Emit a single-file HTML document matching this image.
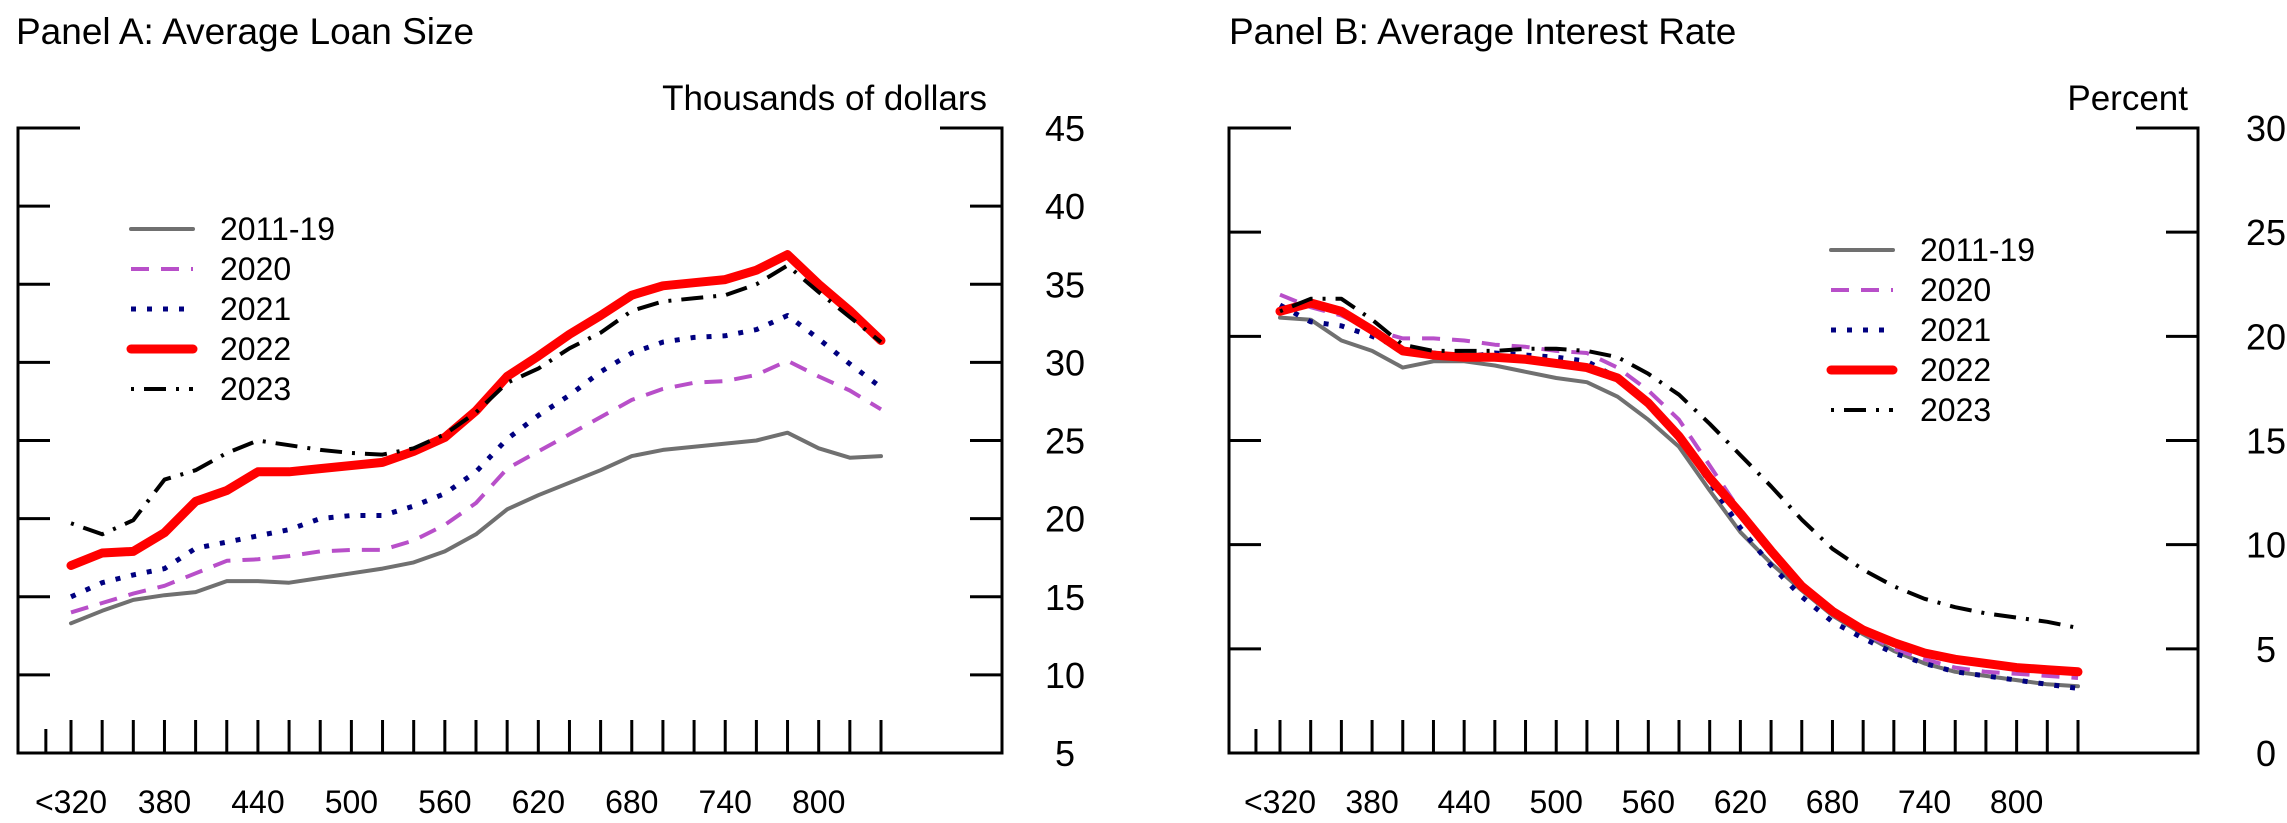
<!DOCTYPE html>
<html><head><meta charset="utf-8"><style>
html,body{margin:0;padding:0;background:#fff;}
svg{display:block;font-family:"Liberation Sans",Arial,sans-serif;}
</style></head><body>
<svg id="chart" width="2287" height="823" viewBox="0 0 2287 823" xmlns="http://www.w3.org/2000/svg">
<text x="16" y="44" font-size="37">Panel A: Average Loan Size</text>
<text x="987" y="110" font-size="35" text-anchor="end">Thousands of dollars</text>
<text x="1229" y="44" font-size="37">Panel B: Average Interest Rate</text>
<text x="2188" y="110" font-size="35" text-anchor="end">Percent</text>
<g id="pa"></g>
<g id="pb"></g>
</svg>
<script>
const categories = [320,340,360,380,400,420,440,460,480,500,520,540,560,580,600,620,640,660,680,700,720,740,760,780,800,820,840];
const xTickLabels = ["<320","380","440","500","560","620","680","740","800"];
const seriesNames = ["2011-19","2020","2021","2022","2023"];
const loan2011 = [13.3,14.1,14.8,15.1,15.3,16.0,16.0,15.9,16.2,16.5,16.8,17.2,17.9,19.0,20.6,21.5,22.3,23.1,24.0,24.4,24.6,24.8,25.0,25.5,24.5,23.9,24.0];
const loan2020 = [14.0,14.6,15.2,15.7,16.5,17.3,17.4,17.6,17.9,18.0,18.0,18.6,19.6,21.0,23.2,24.3,25.4,26.5,27.6,28.3,28.7,28.8,29.2,30.1,29.1,28.2,27.0];
const loan2021 = [15.0,15.9,16.4,16.8,18.1,18.5,18.9,19.3,20.0,20.2,20.2,20.8,21.6,23.0,25.1,26.6,27.9,29.4,30.6,31.3,31.6,31.7,32.1,33.0,31.5,29.9,28.4];
const loan2022 = [17.0,17.8,17.9,19.1,21.1,21.8,23.0,23.0,23.2,23.4,23.6,24.3,25.2,26.9,29.1,30.4,31.8,33.0,34.3,34.9,35.1,35.3,35.9,36.9,35.0,33.3,31.4];
const loan2023 = [19.7,19.0,19.9,22.5,23.1,24.2,25.0,24.7,24.4,24.2,24.1,24.5,25.4,26.8,28.7,29.6,30.9,31.9,33.3,33.9,34.1,34.3,35.0,36.2,34.5,32.9,31.3];
const rate2011 = [20.9,20.8,19.8,19.3,18.5,18.8,18.8,18.6,18.3,18.0,17.8,17.1,16.0,14.7,12.6,10.6,9.1,7.8,6.6,5.7,4.9,4.3,3.9,3.7,3.5,3.3,3.2];
const rate2020 = [22.0,21.4,21.0,20.3,19.9,19.9,19.8,19.6,19.5,19.3,19.2,18.5,17.4,16.0,13.8,11.6,9.8,8.0,6.8,5.8,5.0,4.5,4.1,3.9,3.8,3.7,3.6];
const rate2021 = [21.5,20.7,20.5,20.0,19.4,19.2,19.0,19.2,19.1,19.0,18.8,18.0,16.8,15.2,13.0,10.8,9.0,7.5,6.3,5.5,4.8,4.3,3.9,3.7,3.5,3.3,3.1];
const rate2022 = [21.2,21.6,21.2,20.3,19.3,19.1,19.0,19.0,18.9,18.7,18.5,18.0,16.8,15.2,13.2,11.5,9.7,8.0,6.8,5.9,5.3,4.8,4.5,4.3,4.1,4.0,3.9];
const rate2023 = [21.2,21.8,21.8,20.8,19.6,19.3,19.3,19.3,19.4,19.4,19.3,19.0,18.2,17.2,15.8,14.3,12.8,11.2,9.8,8.8,8.0,7.4,7.0,6.7,6.5,6.3,6.0];
const loanTicks = [5,10,15,20,25,30,35,40,45];
const rateTicks = [0,5,10,15,20,25,30];

const NS="http://www.w3.org/2000/svg";
const styles=[
 {stroke:"#707070",w:4,dash:""},
 {stroke:"#b84fc9",w:4,dash:"18,12"},
 {stroke:"#000080",w:5,dash:"5,11"},
 {stroke:"#ff0000",w:9,dash:""},
 {stroke:"#000000",w:4,dash:"3,10,22,10"}];
function mk(tag,attrs,parent){const e=document.createElementNS(NS,tag);for(const k in attrs)e.setAttribute(k,attrs[k]);parent.appendChild(e);return e;}
function panel(g,cfg){
 const {L,R,T,B,x0,x1,ymin,ymax,ticks,series,legX,legY,labX,key}=cfg;
 const xs=i=>x0+(x1-x0)*i/(categories.length-1);
 const ys=v=>B-(v-ymin)/(ymax-ymin)*(B-T);
 const ax={stroke:"#000","stroke-width":3,fill:"none"};
 let e=mk("path",Object.assign({d:`M${L+62},${T} H${L} V${B} H${R} V${T} H${R-62}`},ax),g);
 
 
 ticks.forEach(t=>{
  const y=ys(t);
  if(t!==ymin&&t!==ymax){
   e=mk("path",Object.assign({d:`M${L},${y} H${L+32} M${R},${y} H${R-32}`},ax),g);
   
   
  }
  e=mk("text",{x:labX,y:y+13,"font-size":36,"text-anchor":"middle"},g);
  e.textContent=t;
  
  
 });
 e=mk("path",Object.assign({d:`M${L+(xs(0)-L)*0.45+4},${B} V${B-24}`},ax),g);
 
 
 categories.forEach((c,i)=>{
  e=mk("path",Object.assign({d:`M${xs(i)},${B} V${B-33}`},ax),g);
  
  
 });
 xTickLabels.forEach((lab,j)=>{
  e=mk("text",{x:xs(j*3),y:B+60,"font-size":32,"text-anchor":"middle"},g);
  e.textContent=lab;
  
  
 });
 series.forEach((vals,s)=>{
  const st=styles[s];
  const d=vals.map((v,i)=>(i?"L":"M")+xs(i).toFixed(1)+","+ys(v).toFixed(1)).join(" ");
  e=mk("path",{d:d,fill:"none",stroke:st.stroke,"stroke-width":st.w,"stroke-dasharray":st.dash,"stroke-linejoin":"round","stroke-linecap":st.dash?"butt":"round"},g);
  
  
 });
 seriesNames.forEach((n,s)=>{
  const st=styles[s];const y=legY+s*40;
  e=mk("path",{d:`M${legX},${y} H${legX+62}`,stroke:st.stroke,"stroke-width":st.w,"stroke-dasharray":st.dash,"stroke-linecap":st.dash?"butt":"round"},g);
  
  
  e=mk("text",{x:legX+89,y:y+11,"font-size":32},g);
  e.textContent=n;
  
  
 });
}
panel(document.getElementById("pa"),{key:"panel-a",L:18,R:1002,T:128,B:753,x0:71,x1:881,ymin:5,ymax:45,ticks:loanTicks,
 series:[loan2011,loan2020,loan2021,loan2022,loan2023],legX:131,legY:229,labX:1065});
panel(document.getElementById("pb"),{key:"panel-b",L:1229,R:2198,T:128,B:753,x0:1280,x1:2078,ymin:0,ymax:30,ticks:rateTicks,
 series:[rate2011,rate2020,rate2021,rate2022,rate2023],legX:1831,legY:250,labX:2266});
</script>
</body></html>
